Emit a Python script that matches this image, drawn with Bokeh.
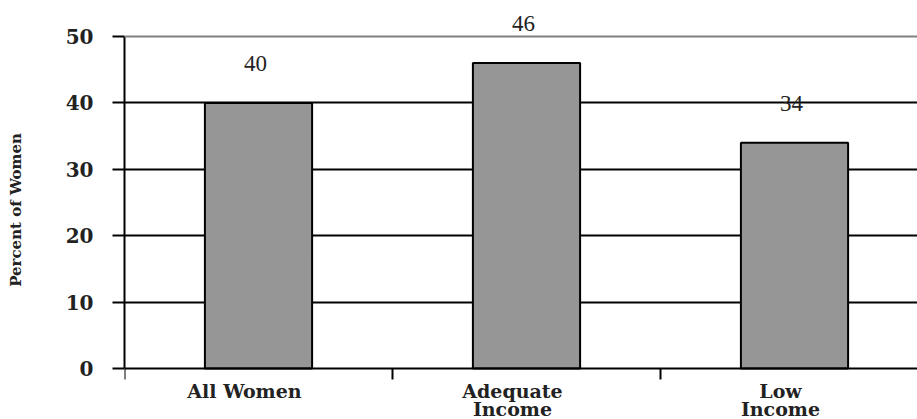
from bokeh.plotting import figure
from bokeh.models import Range1d, FixedTicker, Span, ColumnDataSource, LabelSet
from bokeh.embed import file_html
from bokeh.resources import INLINE

categories = ["All Women", "Adequate\nIncome", "Low\nIncome"]
values = [40, 46, 34]
y_ticks = [0, 10, 20, 30, 40, 50]

xs = [i + 0.5 for i in range(len(categories))]
src = ColumnDataSource(dict(x=xs, top=values, label=[str(v) for v in values]))

W, H = 917, 419
LEFT = 124
ZERO_Y = 368                    # pixel row of the zero line in the reference
PX_PER_UNIT = 332 / 50          # vertical scale of the reference
PX_PER_CAT = 268                # horizontal scale of the reference
LABEL_SHIFT_PX = -14            # category labels sit slightly left of bar centres
p = figure(width=W, height=H, output_backend="svg", toolbar_location=None,
           x_range=Range1d(0, (W - LEFT) / PX_PER_CAT),
           y_range=Range1d(-(H - ZERO_Y) / PX_PER_UNIT, ZERO_Y / PX_PER_UNIT),
           min_border_left=LEFT, min_border_right=0, min_border_top=0,
           min_border_bottom=0)
p.outline_line_color = None
p.background_fill_color = "white"
p.border_fill_color = "white"

# grid
p.xgrid.visible = False
p.ygrid.ticker = FixedTicker(ticks=[10, 20, 30, 40])
p.ygrid.grid_line_color = "black"
p.ygrid.grid_line_width = 2
p.add_layout(Span(location=50, dimension="width", line_color="#808080", line_width=2))

p.vbar(x="x", top="top", width=0.4, bottom=0, source=src,
       fill_color="#969696", line_color="black", line_width=2)

# value labels
p.add_layout(LabelSet(x="x", y="top", text="label", source=src, x_offset=-3, y_offset=32,
                      text_align="center", text_baseline="alphabetic",
                      text_font="DejaVu Sans", text_font_size="23px", text_color="#222222"))

# y axis
ya = p.yaxis[0]
ya.bounds = (0, 50)
ya.ticker = FixedTicker(ticks=y_ticks)
ya.axis_line_color = "black"
ya.axis_line_width = 2
ya.major_tick_line_color = "black"
ya.major_tick_line_width = 2
ya.major_tick_out = 12
ya.major_tick_in = 0
ya.minor_tick_line_color = None
ya.major_label_standoff = 19
ya.major_label_text_font = "DejaVu Serif"
ya.major_label_text_font_style = "bold"
ya.major_label_text_font_size = "20px"
ya.major_label_text_color = "#222222"
ya.axis_label = "Percent of Women"
ya.axis_label_text_font = "DejaVu Serif"
ya.axis_label_text_font_style = "bold"
ya.axis_label_text_font_size = "15px"
ya.axis_label_text_color = "#222222"
ya.axis_label_standoff = 38

# x axis at y = 0: tick marks at category boundaries, labels near centres
label_pos = [x + LABEL_SHIFT_PX / PX_PER_CAT for x in xs]
xa = p.xaxis[0]
xa.fixed_location = 0
xa.ticker = FixedTicker(ticks=label_pos, minor_ticks=list(range(len(categories) + 1)))
xa.major_label_overrides = {x: c for x, c in zip(label_pos, categories)}
xa.axis_line_color = "black"
xa.axis_line_width = 2
xa.major_tick_line_color = None
xa.major_tick_out = 0
xa.major_tick_in = 0
xa.minor_tick_line_color = "black"
xa.minor_tick_line_width = 2
xa.minor_tick_out = 11
xa.minor_tick_in = 0
xa.major_label_standoff = 0
xa.major_label_text_font = "DejaVu Serif"
xa.major_label_text_font_style = "bold"
xa.major_label_text_font_size = "19px"
xa.major_label_text_line_height = 0.82
xa.major_label_text_color = "#222222"

open("out.html", "w").write(file_html(p, INLINE))
